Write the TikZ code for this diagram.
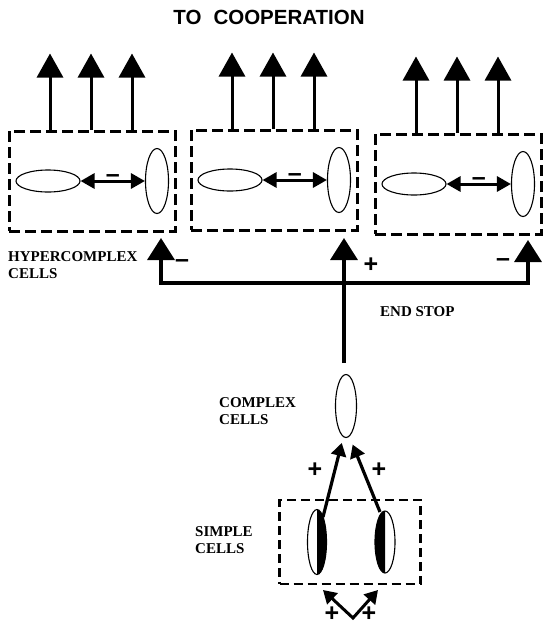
\documentclass[tikz,border=0pt]{standalone}
\usepackage{amsmath}
\usepackage{fontspec}
\newfontfamily\titlefont{Liberation Sans}
\newfontfamily\labelfont{Liberation Serif}
\usetikzlibrary{arrows.meta}
\usetikzlibrary{shapes.geometric}

\begin{document}
\begin{tikzpicture}[x=1pt,y=-1pt,
		cellbox/.style={draw, line width=3pt, dash pattern=on 11pt off 5pt,
			minimum width=166pt, minimum height=100pt, inner sep=0pt},
		hcell/.style={ellipse, draw, line width=1.1pt, minimum width=64pt,
			minimum height=22pt, inner sep=0pt},
		vcell/.style={ellipse, draw, line width=1.1pt, minimum width=23pt,
			minimum height=65pt, inner sep=0pt},
		uparrow/.style={-{Triangle[length=24pt,width=26pt]}, line width=3pt},
		dblarrow/.style={{Triangle[length=14pt,width=15pt]}-{Triangle[length=14pt,width=15pt]}, line width=3pt},
		fbtip/.tip={Triangle[length=22pt,width=27pt]},
		smtip/.tip={Triangle[length=13pt,width=15pt]},
		inarrow/.style={-smtip, line width=3.2pt},
		lbl/.style={font=\labelfont\bfseries\fontsize{15}{16.5}\selectfont, align=left, inner sep=0pt},
		sign/.style={font=\titlefont\bfseries\fontsize{25}{27}\selectfont, inner sep=0pt}]
		\useasboundingbox (0,0) rectangle (545,630);
		
		% Title
		\node[font=\titlefont\bfseries\fontsize{20.5}{24}\selectfont] (title) at (269,17)
		{TO\hspace{12pt}COOPERATION};
		
		% Hypercomplex cells
		\foreach \i/\x/\y in {1/92/181, 2/274/180, 3/458/184}{
			\node[cellbox] (b\i) at (\x,\y) {};
			\node[hcell] (h\i) at (\x-44,\y) {};
			\node[vcell] (v\i) at (\x+65,\y) {};
			\draw[dblarrow] (h\i) -- (v\i) node[sign, midway, above=-3pt] (m\i) {–};
			% outputs to cooperation
			\foreach \d in {-42,-1,40}
			\draw[uparrow] ([xshift=\d pt]b\i.north) -- ++(0,-76);
		}
		\node[lbl, anchor=west] (hyper) at (8,265) {HYPERCOMPLEX\\CELLS};
		
		% End stop
		\coordinate (t1) at (161,238);
		\coordinate (t2) at (344,238);
		\coordinate (t3) at (528,240);
		\coordinate (c1) at (161,283);
		\coordinate (c3) at (528,283);
		\coordinate (es) at (344,363);
		\draw[fbtip-fbtip, line width=3.5pt] (t1) -- (c1) -- (c3) -- (t3);
		\draw[-fbtip, line width=3.5pt] (es) -- (t2);
		\node[sign] (fm1) at (182,264) {–};
		\node[sign] (fp) at (371,265) {+};
		\node[sign] (fm3) at (503,263) {–};
		\node[lbl, anchor=west] (endstop) at (380,312) {END STOP};
		
		% Complex cell
		\node[vcell, minimum width=21pt, minimum height=63pt] (cx) at (346,406) {};
		\node[lbl, anchor=west] (complex) at (219,411) {COMPLEX\\CELLS};
		
		% Simple cells
		\node[cellbox, line width=2.6pt, dash pattern=on 9pt off 5pt,
		minimum width=141pt, minimum height=84pt] (sb) at (350,542) {};
		\node[vcell, minimum width=19pt, minimum height=65pt] (sl) at (317,542) {};
		\node[vcell, minimum width=20pt, minimum height=62pt] (sr) at (385,542) {};
		\begin{scope}
			\clip (sl.north) rectangle ([xshift=12pt]sl.south);
			\fill (sl.center) ellipse[x radius=9.5, y radius=32.5];
		\end{scope}
		\begin{scope}
			\clip ([xshift=-12pt]sr.north) rectangle (sr.south);
			\fill (sr.center) ellipse[x radius=10, y radius=31];
		\end{scope}
		\node[lbl, anchor=west] (simple) at (195,540) {SIMPLE\\CELLS};
		
		% Simple to complex
		\draw[inarrow, shorten >=5pt] ([xshift=6pt,yshift=25pt]sl.center) -- ([xshift=-3pt]cx.south);
		\draw[inarrow, shorten >=7pt] ([xshift=-5pt,yshift=30pt]sr.center) -- ([xshift=4pt]cx.south);
		\node[sign] (sp1) at (315,470) {+};
		\node[sign] (sp2) at (379,470) {+};
		
		% Inputs
		\coordinate (in) at (353,618);
		\coordinate (il) at (323,590);
		\coordinate (ir) at (378,590);
		\draw[smtip-smtip, line width=3pt] (il) -- (in) -- (ir);
		\node[sign] (ip1) at (332,614) {+};
		\node[sign] (ip2) at (369,614) {+};
	\end{tikzpicture}
\end{document}
